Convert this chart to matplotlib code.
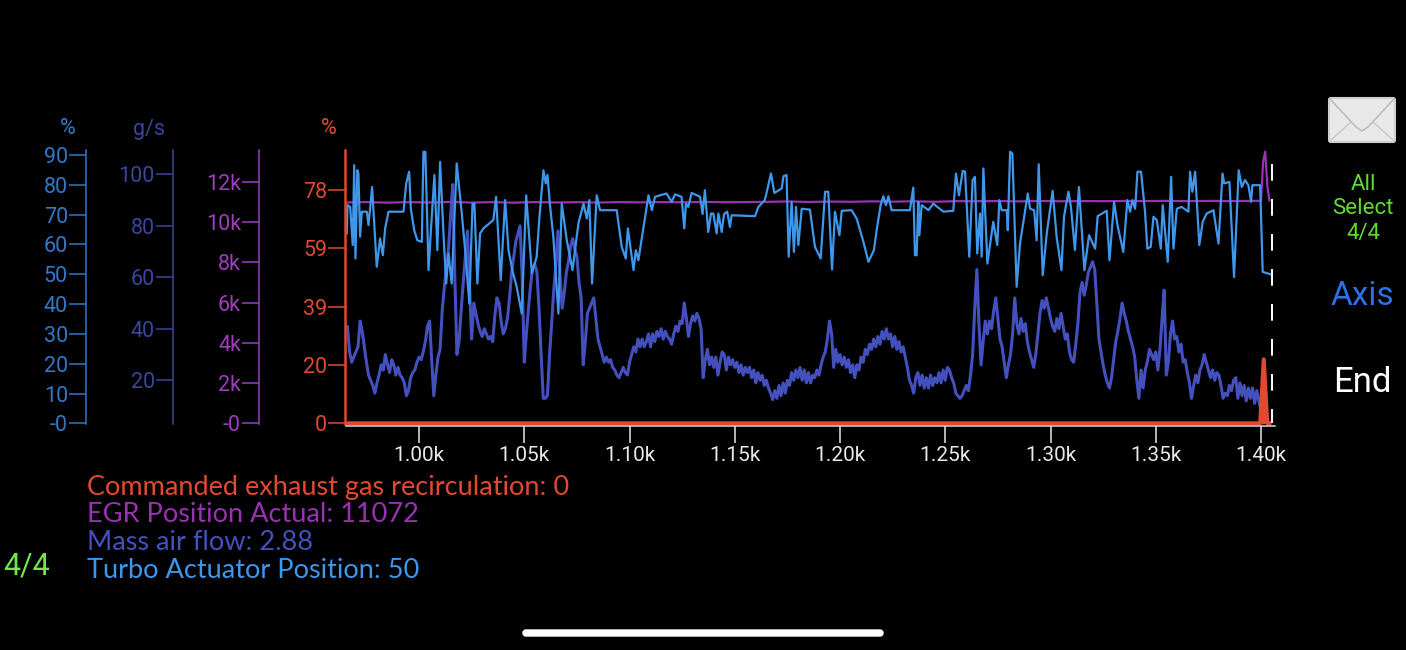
import matplotlib.pyplot as plt
import numpy as np
from matplotlib.patches import FancyBboxPatch

W, H = 1406, 650        # Picture size in pixels
PT = 0.72               # Points per pixel at dpi 100

# Plot channel class
class Channel():
    def __init__(self, name, color, line_color, ylim, ticks, labels, offset):
        self.name = name
        self.color = color              # Axis colour
        self.line_color = line_color    # Trace colour
        self.ylim = ylim
        self.ticks = ticks
        self.labels = labels
        self.offset = offset            # Distance of spine from plot, pixels

# Turbo Actuator Position, sample and percent
TURBO = [
    (965.7, 63.7), (966, 73.2), (967.3, 72.6), (968.5, 59.8), (969.2, 86.6), (969.8, 55.3), (970.7, 84.9), (971.2, 83.8),
    (972, 62.6), (972.8, 71), (975.2, 71), (976, 66.5), (977.7, 79.3), (979.9, 52.5), (981.5, 62), (982.8, 56.4),
    (983.9, 65.4), (985.5, 71), (992.6, 71), (993.9, 80.5), (995.3, 84.4), (996.1, 72), (997.7, 64.8), (999.2, 61.4),
    (1001.3, 60.9), (1002.1, 91.1), (1003, 91.1), (1004.5, 51.4), (1005.7, 65.4), (1007.3, 83.3), (1008.7, 58.1), (1010, 87.7),
    (1011.6, 63.7), (1012.9, 46.9), (1014, 57), (1015.5, 46.9), (1017.9, 87.2), (1020.3, 70.4), (1021.9, 58.1), (1023.9, 40.2),
    (1025.4, 73.7), (1026.3, 73.7), (1027.7, 46.9), (1029, 63.7), (1030.6, 65.4), (1035.3, 68.2), (1036.6, 76), (1038.8, 48),
    (1040.9, 74.9), (1042.5, 58.1), (1044.5, 50.8), (1046.4, 45.8), (1048.8, 36.8), (1050.9, 76.5), (1053.6, 50.3), (1055.9, 55.9),
    (1057.2, 69.3), (1059.1, 84.9), (1060.2, 80.5), (1061, 83.3), (1062.3, 72.6), (1063.8, 62.6), (1066.2, 36.8), (1067.8, 73.7),
    (1070.2, 61.4), (1072.9, 51.4), (1075.7, 67), (1078.1, 73.7), (1079.7, 68.7), (1080.9, 74.9), (1082.2, 46.9), (1084.4, 76.5),
    (1086, 71.5), (1093.9, 71.5), (1096.3, 59.2), (1098.2, 55.3), (1099.2, 65.4), (1101.9, 51.4), (1103, 58.1), (1104.2, 54.7),
    (1105.8, 62), (1109, 76.5), (1110.6, 71.5), (1112.1, 76), (1114.5, 76.5), (1117.6, 77.1), (1120, 74.3), (1121.6, 76.8),
    (1124.7, 76), (1126, 65.4), (1126.8, 73.7), (1127.9, 72.6), (1129.5, 77.3), (1133.5, 76), (1134.7, 70.2), (1135.8, 78.2),
    (1137.4, 64.2), (1138.7, 70.4), (1139.8, 70.4), (1141.4, 63.7), (1142.2, 70.4), (1143.8, 64.2), (1144.9, 70.2), (1146.4, 71),
    (1147.7, 65.9), (1148.5, 69.8), (1159.6, 69.5), (1161.2, 72.6), (1164.3, 74.9), (1167.2, 83.8), (1168.8, 77.3), (1172.3, 78.8),
    (1173.1, 82.9), (1174.6, 83.3), (1175.6, 55.9), (1177, 74.3), (1178.1, 57.5), (1179.1, 72.6), (1180.2, 59.8), (1181.8, 72),
    (1185.7, 71.7), (1188.1, 59.2), (1190.8, 55.3), (1192.9, 77.7), (1194.4, 77.7), (1196.2, 51.6), (1197.6, 71), (1199.7, 63.1),
    (1200.8, 71.3), (1205.5, 71.5), (1207.9, 68.7), (1211.1, 60.9), (1213.5, 54.2), (1216.1, 58.1), (1217.4, 64.8), (1219.3, 73.2),
    (1220.6, 76.2), (1221.8, 73.2), (1223, 76.2), (1224.5, 71.5), (1233.2, 71.5), (1234.8, 79.1), (1235.6, 56.4), (1236.4, 56.4),
    (1237.2, 74.3), (1237.7, 63.1), (1238.8, 73.2), (1242, 71.5), (1244.3, 73.7), (1249.1, 71), (1253.8, 71.3), (1255.1, 83.8),
    (1256.5, 76.5), (1258.3, 84.7), (1259.4, 84.4), (1261.4, 55.9), (1263, 81.6), (1264.1, 82.7), (1265.2, 57), (1266.5, 70.4),
    (1267.3, 55.9), (1268.1, 85.5), (1270, 53.6), (1272.8, 67.6), (1274.7, 59.8), (1275.7, 74.9), (1276.8, 71.5), (1279.2, 71.5),
    (1279.7, 64.8), (1280.8, 91.1), (1281.9, 90.5), (1283.9, 45.8), (1285.5, 60.3), (1289.2, 77.1), (1290.3, 72), (1292.2, 71.5),
    (1293.4, 61.4), (1294.4, 86.9), (1296.3, 49.7), (1298.2, 63.7), (1301, 78), (1302.9, 62.6), (1305.2, 51.4), (1306.4, 69.3),
    (1308.5, 77.7), (1309.7, 72.6), (1311.6, 58.1), (1313.5, 79.3), (1316.1, 51.4), (1318.3, 63.1), (1321.2, 58.6), (1322.4, 69.5),
    (1326.7, 71.3), (1328, 54.7), (1330.2, 74.3), (1331.8, 66.5), (1334.6, 57.5), (1336.5, 74.9), (1337.8, 71), (1338.9, 74.9),
    (1340.2, 72), (1341.3, 84.4), (1343, 84.4), (1344.9, 71), (1346, 58.6), (1347.6, 59.2), (1348.9, 69.3), (1350.5, 68.2),
    (1352.4, 58.6), (1353.3, 73.2), (1355.7, 54.2), (1357.3, 82.7), (1358.4, 58.6), (1360, 72), (1362.3, 72.6), (1365.5, 71),
    (1366.3, 84.4), (1367.4, 77.7), (1368.7, 84.4), (1370.7, 59.8), (1372.3, 67.6), (1374.2, 70.4), (1377.4, 71.5), (1379.8, 60.3),
    (1381.7, 83.8), (1382.5, 80.5), (1385, 81), (1387.2, 49.1), (1389.4, 84.9), (1390.9, 79.3), (1392.4, 81.6), (1394, 79.9),
    (1395.3, 74.3), (1395.9, 79.9), (1399.6, 79.9), (1400.8, 50.8), (1404.6, 50),
]

# Mass air flow in g/s, one row for ten samples, first sample 966
MAF_START = 966
MAF = [
    40.8, 31, 27, 29,
    31, 33, 43, 39, 33, 27, 22, 20, 18, 15,
    19, 22, 26, 24, 30, 26, 23, 28, 26, 22,
    25, 22, 21, 19, 14, 16, 21, 23, 24, 27,
    29, 28, 31, 35, 41, 43, 28, 14, 22, 29,
    32, 47, 56, 64, 71, 84, 96, 60, 30, 35,
    47, 58, 68, 78, 56, 36, 50, 46, 42, 39,
    37, 40, 38, 36, 37, 35, 45, 52, 50, 43,
    38, 40, 44, 52, 62, 68, 74, 77, 80, 60,
    27, 38, 48, 57, 64, 65, 62, 48, 30, 13,
    13, 14, 30, 42, 55, 65, 78, 60, 48, 54,
    62, 66, 72, 75, 71, 68, 58, 52, 26, 35,
    46, 48, 50, 52, 44, 36, 33, 30, 27, 29,
    27, 28, 25, 24, 22, 21, 23, 25, 23, 22,
    27, 30, 33, 31, 36, 33, 36, 33, 35, 38,
    33, 38, 35, 39, 37, 40, 36, 39, 37, 36,
    34, 38, 41, 39, 43, 42, 50, 44, 37, 42,
    45, 43, 46, 44, 40, 21, 28, 32, 26, 29,
    25, 29, 22, 27, 31, 30, 24, 29, 26, 28,
    25, 27, 23, 26, 22, 25, 23, 25, 21, 24,
    19, 23, 20, 22, 18, 20, 17, 15, 12.5, 16,
    13, 18, 14, 19, 15, 20, 18, 23, 20, 24,
    21, 25, 20, 24, 19, 23, 19, 22, 21, 24,
    22, 26, 29, 31, 36, 43, 38, 25, 32, 27,
    30, 26, 29, 25, 28, 23, 26, 21, 26, 24,
    29, 27, 32, 30, 34, 32, 36, 33, 37, 34,
    39, 36, 40, 36, 38, 33, 37, 32, 35, 31,
    33, 29, 25, 20, 18, 15, 21, 23, 18, 22,
    17, 21, 17, 22, 18, 21, 19, 23, 19, 24,
    20, 25, 24, 21, 19, 15, 14, 13, 14, 16,
    18, 16, 22, 30, 48, 63, 42, 26, 35, 43,
    38, 43, 40, 47, 52, 44, 36, 33, 27, 21,
    26, 30, 38, 52, 42, 38, 44, 39, 42, 35,
    31, 28, 25, 30, 38, 46, 51, 48, 52, 48,
    44, 41, 39, 44, 40, 46, 41, 36, 38, 31,
    28, 27, 34, 42, 54, 58, 53, 57, 62, 64,
    66, 63, 50, 36, 31, 26, 22, 19, 17, 21,
    28, 35, 39, 44, 50, 46, 43, 39, 36, 33,
    29, 20, 13, 24, 17, 24, 27, 32, 30, 28,
    31, 24, 32, 44, 55, 22, 27, 38, 43, 36,
    37, 31, 34, 27, 28, 23, 19, 13, 18, 22,
    19, 24, 26, 30, 27, 24, 21, 24, 20, 23,
    22, 18, 13, 15, 14, 18, 16, 20, 21, 13,
    19, 14, 18, 12, 17, 13, 17, 11, 16, 12,
    8, 2.88, 2.88, 2.88, 2.88,
]

# EGR position, sample and value
EGR = [
    (966, 10970), (975, 10990), (985, 10960), (995, 10985), (1005, 10970), (1015, 10995), (1025, 10965), (1035, 10985),
    (1045, 10960), (1055, 10990), (1065, 10970), (1075, 10985), (1085, 10965), (1095, 10990), (1105, 10975), (1115, 10990),
    (1125, 10980), (1135, 10995), (1145, 10985), (1155, 10990), (1165, 11000), (1175, 11020), (1185, 10995), (1195, 11015),
    (1205, 11005), (1215, 11025), (1225, 11010), (1235, 11030), (1245, 11005), (1255, 11035), (1265, 11030), (1275, 11040),
    (1285, 11025), (1295, 11045), (1305, 11030), (1315, 11040), (1325, 11035), (1335, 11045), (1345, 11040), (1355, 11050),
    (1365, 11035), (1375, 11050), (1385, 11040), (1395, 11050), (1400, 11050), (1401, 13000), (1402, 13500), (1403, 11800),
    (1404, 11072),
]

# Commanded exhaust gas recirculation, sample and percent
EGR_CMD = [(966, 0), (1399.6, 0), (1401.3, 21.4), (1403, 0), (1404, 0)]

# Draw one trace with its own y axis on top of the plot area
def add_channel(fig, rect, channel, x, y, lw=1.6):
    ax = fig.add_axes(rect, label=channel.name)
    ax.patch.set_visible(False)
    ax.plot(x, y, color=channel.line_color, lw=lw, solid_joinstyle='round')
    ax.set_xlim(965.3, 1406.65)
    ax.set_ylim(*channel.ylim)
    for side in ['top', 'right', 'bottom']:
        ax.spines[side].set_visible(False)
    ax.spines['left'].set_position(('outward', channel.offset * PT))
    ax.spines['left'].set_color(channel.color)
    ax.spines['left'].set_linewidth(1.1)
    ax.set_xticks([])
    ax.set_yticks(channel.ticks)
    ax.set_yticklabels(channel.labels)
    ax.tick_params(axis='y', colors=channel.color, length=12, width=1.1, pad=1, labelsize=15.5)
    return ax

def main():
    plt.rcParams['font.family'] = 'Roboto'
    plt.rcParams['savefig.facecolor'] = 'black'

    fig = plt.figure(figsize=(W / 100, H / 100), dpi=100, facecolor='black')
    rect = [346 / W, 1 - 424 / H, (1275 - 346) / W, (424 - 150) / H]

    turbo = Channel('Turbo Actuator Position', '#3278c8', '#3e97ea', (-0.23, 91.7), list(range(0, 91, 10)),
                    ['-0', '10', '20', '30', '40', '50', '60', '70', '80', '90'], 260)
    maf = Channel('Mass air flow', '#3c459c', '#4450bd', (3.03, 109.4), [20, 40, 60, 80, 100],
                  ['20', '40', '60', '80', '100'], 173)
    egr = Channel('EGR Position Actual', '#9c3fb8', '#9a30b4', (-35, 13577), list(range(0, 12001, 2000)),
                  ['-0', '2k', '4k', '6k', '8k', '10k', '12k'], 87)
    cmd = Channel('Commanded exhaust gas recirculation', '#e0482f', '#e2492f', (-0.23, 91.4), [0, 19.5, 39, 58.5, 78],
                  ['0', '20', '39', '59', '78'], 1)

    maf_x = MAF_START + np.arange(len(MAF))
    add_channel(fig, rect, maf, maf_x, MAF, lw=2.2)
    add_channel(fig, rect, egr, *zip(*EGR))
    add_channel(fig, rect, turbo, *zip(*TURBO))
    ax = add_channel(fig, rect, cmd, *zip(*EGR_CMD), lw=2.9)
    ax.lines[0].set_clip_on(False)          # Baseline sits on the edge of the plot
    ax.fill_between(*zip(*EGR_CMD), color=cmd.line_color, lw=0)
    ax.spines['left'].set_linewidth(1.8)

    # End of the recording
    ax.plot([1405, 1405], [86.6, 0], color='white', lw=1.4, dashes=(16.7 * PT / 1.4, 18.3 * PT / 1.4))

    # Sample axis
    ax.spines['bottom'].set_visible(True)
    ax.spines['bottom'].set_position(('outward', 1.5))
    ax.spines['bottom'].set_color('#d8d8d8')
    ax.spines['bottom'].set_linewidth(1.1)
    ticks = np.arange(1000, 1401, 50)
    ax.set_xticks(ticks)
    ax.set_xticklabels([f'{t / 1000:.2f}k' for t in ticks])
    ax.tick_params(axis='x', colors='#e8e8e8', length=12, width=1.1, pad=2, labelsize=15)

    # Everything around the plot is placed in pixels
    ui = fig.add_axes([0, 0, 1, 1], label='ui')
    ui.set_xlim(0, W)
    ui.set_ylim(H, 0)
    ui.axis('off')

    for xp, unit, channel in [(68, '%', turbo), (149, 'g/s', maf), (329, '%', cmd)]:
        ui.text(xp, 129, unit, color=channel.color, fontsize=15.5, ha='center', va='center')

    for yp, label, channel in [(487, 'Commanded exhaust gas recirculation: 0', cmd), (515, 'EGR Position Actual: 11072', egr),
                               (543, 'Mass air flow: 2.88', maf), (570, 'Turbo Actuator Position: 50', turbo)]:
        ui.text(87, yp, label, color=channel.line_color, fontsize=19.5, family='Lato', ha='left', va='center')

    ui.text(27, 566, '4/4', color='#6fe84a', fontsize=22, ha='center', va='center')
    ui.text(1363, 184, 'All', color='#5fdc30', fontsize=16, ha='center', va='center')
    ui.text(1363, 209, 'Select', color='#5fdc30', fontsize=16, ha='center', va='center')
    ui.text(1363, 234, '4/4', color='#5fdc30', fontsize=16, ha='center', va='center')
    ui.text(1362, 296, 'Axis', color='#2f6fe6', fontsize=24, ha='center', va='center')
    ui.text(1362, 383, 'End', color='white', fontsize=25, ha='center', va='center')

    # Mail button
    ui.add_patch(FancyBboxPatch((1329, 98), 66, 44, boxstyle='round,pad=0,rounding_size=2', fc='#e8e8e8', ec='#cfcfcf', lw=1.5))
    ui.plot([1330, 1356, 1362, 1368, 1394], [99, 127, 131, 127, 99], color='#bdbdbd', lw=1.2)
    ui.plot([1331, 1351], [140, 122], color='#c8c8c8', lw=1)
    ui.plot([1393, 1373], [140, 122], color='#c8c8c8', lw=1)

    # Home bar
    ui.add_patch(FancyBboxPatch((523, 630), 360, 6, boxstyle='round,pad=0,rounding_size=3', fc='white', ec='white', lw=1))

    fig.savefig('out.png', dpi=100)

if __name__ == "__main__":
    main()
